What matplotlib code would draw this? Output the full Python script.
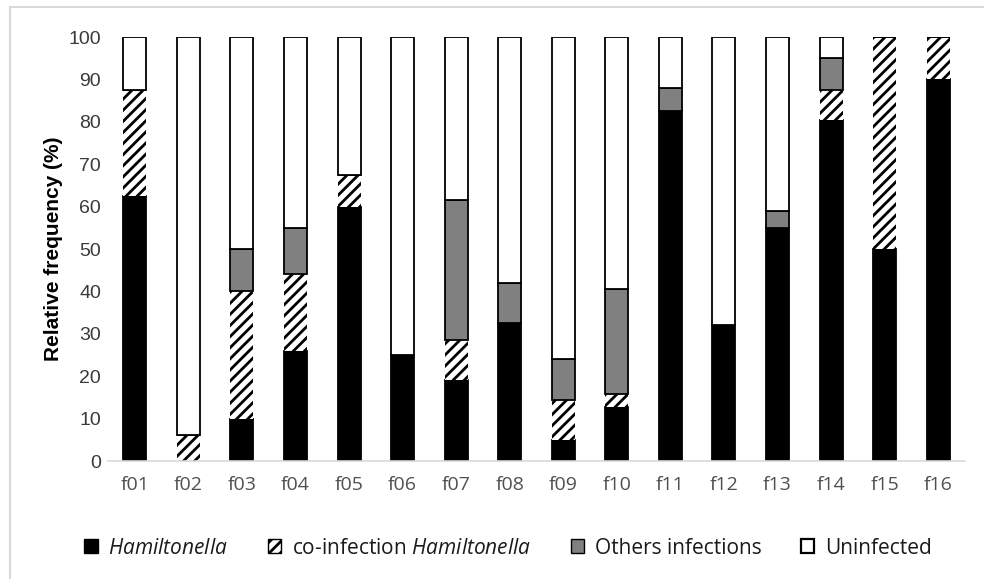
import matplotlib
matplotlib.use("Agg")
import matplotlib.pyplot as plt
import numpy as np
from matplotlib.lines import Line2D
from matplotlib.patches import Patch

categories = ["f01", "f02", "f03", "f04", "f05", "f06", "f07", "f08",
              "f09", "f10", "f11", "f12", "f13", "f14", "f15", "f16"]
hamiltonella = [62.5, 0, 10, 26, 60, 25, 19, 32.5, 5, 12.8, 82.5, 32, 55, 80.5, 50, 90]
coinfection = [25, 6.25, 30, 18, 7.5, 0, 9.5, 0, 9.3, 2.9, 0, 0, 0, 7, 50, 10]
others = [0, 0, 10, 11, 0, 0, 33, 9.5, 9.7, 24.8, 5.5, 0, 4, 7.6, 0, 0]
uninfected = [100 - a - b - c for a, b, c in zip(hamiltonella, coinfection, others)]
yticks = [0, 10, 20, 30, 40, 50, 60, 70, 80, 90, 100]

plt.rcParams['font.family'] = ['Open Sans', 'DejaVu Sans']
plt.rcParams['mathtext.fontset'] = 'custom'
plt.rcParams['mathtext.it'] = 'Open Sans:italic'
plt.rcParams['mathtext.rm'] = 'Open Sans'
plt.rcParams['hatch.linewidth'] = 2.0

fig = plt.figure(figsize=(9.84, 5.79), dpi=100)
ax = fig.add_axes([108/984, 1 - 461/579, (965-108)/984, (461-37)/579])

x = np.arange(len(categories))
w = 0.43
lw = 1.3
b1 = np.array(hamiltonella)
b2 = b1 + np.array(coinfection)
b3 = b2 + np.array(others)
ax.bar(x, hamiltonella, w, color='black', edgecolor='black', linewidth=lw)
ax.bar(x, coinfection, w, bottom=b1, color='white', edgecolor='black', hatch='///', linewidth=0)
ax.bar(x, others, w, bottom=b2, color='#808080', edgecolor='black', linewidth=lw)
ax.bar(x, uninfected, w, bottom=b3, color='white', edgecolor='black', linewidth=lw)

ax.set_xlim(-0.5, 15.5)
ax.set_ylim(0, 100)
ax.set_xticks(x)
ax.set_xticklabels(categories, fontsize=14, color='#505050')
ax.set_yticks(yticks)
ax.set_yticklabels([str(v) for v in yticks], fontsize=14, color='#3a3a3a', family='Liberation Sans')
ax.tick_params(axis='both', length=0)
ax.tick_params(axis='x', pad=11)
ax.tick_params(axis='y', pad=5)
for s in ['top', 'right', 'left']:
    ax.spines[s].set_visible(False)
ax.spines['bottom'].set_color('#d9d9d9')
ax.spines['bottom'].set_linewidth(1.2)

ax.set_ylabel('Relative frequency (%)', fontsize=15, fontweight='bold',
              family='Liberation Sans', labelpad=4)

handles = [
    Patch(facecolor='black', edgecolor='black'),
    Patch(facecolor='white', edgecolor='black', hatch='///'),
    Patch(facecolor='#808080', edgecolor='black'),
    Patch(facecolor='white', edgecolor='black', linewidth=1.6),
]
labels = [r'$\mathit{Hamiltonella}$', r'co-infection $\mathit{Hamiltonella}$',
          'Others infections', 'Uninfected']
leg = fig.legend(handles, labels, loc='center', bbox_to_anchor=(508/984, 1 - 548/579),
                 ncol=4, frameon=False, fontsize=15, handlelength=0.65, handleheight=0.65,
                 handletextpad=0.5, columnspacing=1.9)
for t in leg.get_texts():
    t.set_color('#1a1a1a')

fig.add_artist(Line2D([10/984, 1], [1 - 7/579, 1 - 7/579], color='#d9d9d9', lw=1.5, transform=fig.transFigure))
fig.add_artist(Line2D([10/984, 10/984], [0, 1 - 7/579], color='#d9d9d9', lw=1.5, transform=fig.transFigure))

fig.savefig('out.png', dpi=100)
